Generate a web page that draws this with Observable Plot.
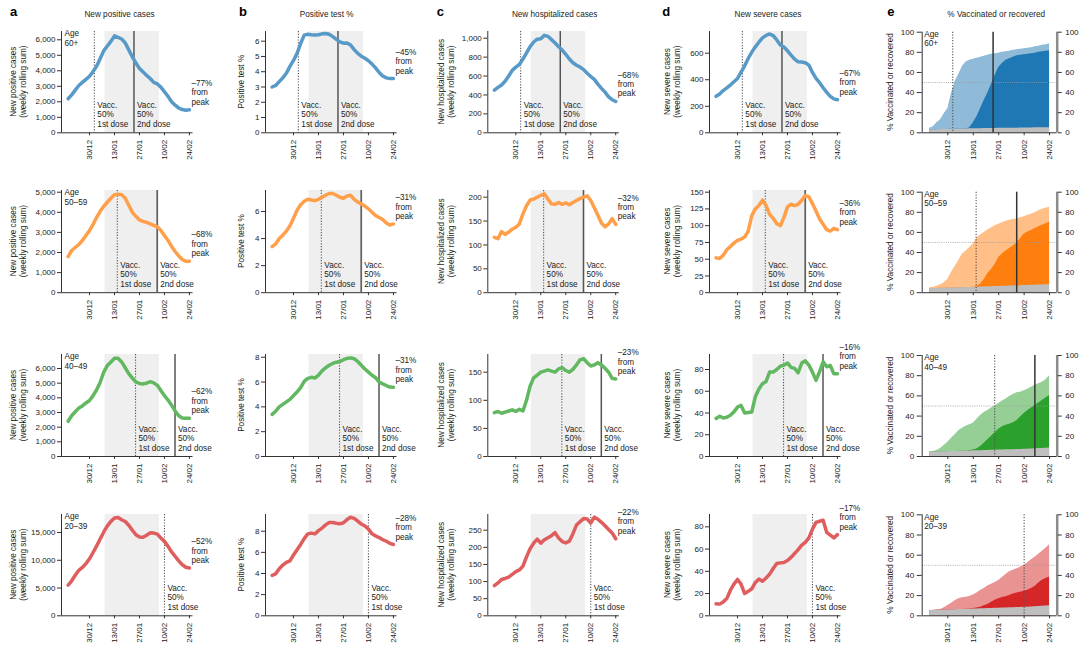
<!DOCTYPE html>
<html>
<head>
<meta charset="utf-8">
<script src="https://cdn.jsdelivr.net/npm/d3@7"></script>
<script src="https://cdn.jsdelivr.net/npm/@observablehq/plot@0.6"></script>
<style>
html,body{margin:0;padding:0;background:#fff;}
#chart{position:relative;width:1080px;height:652px;overflow:hidden;background:#fff;}
#chart svg{position:absolute;left:0;top:0;}
</style>
</head>
<body>
<div id="chart"></div>
<script>
// ---------- DATA ----------
const dates = ["2020-12-18","2020-12-20","2020-12-22","2020-12-24","2020-12-26","2020-12-28","2020-12-30",
  "2021-01-01","2021-01-03","2021-01-05","2021-01-07","2021-01-09","2021-01-11","2021-01-13","2021-01-15",
  "2021-01-17","2021-01-19","2021-01-21","2021-01-23","2021-01-25","2021-01-27","2021-01-29","2021-01-31",
  "2021-02-02","2021-02-04","2021-02-06","2021-02-08","2021-02-10","2021-02-12","2021-02-14","2021-02-16",
  "2021-02-18","2021-02-20","2021-02-22","2021-02-24"];
const datesE = dates.slice(1);
const tickDates = ["2020-12-30","2021-01-13","2021-01-27","2021-02-10","2021-02-24"];

const ages = ["60+", "50\u201359", "40\u201349", "20\u201339"];
const metricTitles = ["New positive cases", "Positive test %", "New hospitalized cases", "New severe cases", "% Vaccinated or recovered"];
const yTitles = [["New positive cases","(weekly rolling sum)"], ["Positive test %"], ["New hospitalized cases","(weekly rolling sum)"], ["New severe cases","(weekly rolling sum)"], ["% Vaccinated or recovered"]];
const panelLetters = ["a","b","c","d","e"];

// a: new positive cases (weekly rolling sum)
const cases60   = [2200,2450,2750,3050,3250,3450,3650,3950,4300,4800,5300,5600,5900,6250,6150,6050,5800,5350,4900,4500,4150,3930,3700,3500,3250,3150,2950,2650,2350,2000,1780,1600,1500,1460,1480];
const cases5059 = [1800,2100,2250,2400,2600,2850,3100,3400,3750,4050,4300,4500,4700,4880,4900,4880,4700,4350,4000,3800,3620,3550,3500,3420,3350,3280,3100,2850,2600,2300,2050,1830,1650,1560,1560];
const cases4049 = [2400,2780,3050,3300,3450,3650,3820,4150,4550,5070,5750,6200,6450,6700,6700,6450,6050,5650,5350,5080,4980,4950,5000,5100,5020,4850,4500,4150,3850,3500,3100,2780,2620,2600,2610];
const cases2039 = [5500,6300,7300,8200,8700,9400,10260,11400,12600,13860,15100,16200,17000,17600,17700,17300,16980,16300,15400,14600,14200,14150,14500,14940,14900,14700,14000,13400,12500,11500,10700,9900,9200,8750,8600];
// b: positive test %
const test60   = [3.0,3.1,3.35,3.6,3.9,4.35,4.74,5.2,5.85,6.4,6.45,6.42,6.4,6.42,6.48,6.5,6.45,6.3,6.12,5.95,5.87,5.88,5.75,5.45,5.2,5.02,4.88,4.72,4.5,4.25,3.95,3.72,3.6,3.55,3.55];
const test5059 = [3.4,3.6,4.0,4.25,4.55,4.95,5.5,6.1,6.5,6.75,6.9,6.85,6.8,6.9,7.05,7.2,7.33,7.33,7.2,7.05,6.98,7.15,7.2,6.9,6.7,6.55,6.4,6.2,5.95,5.7,5.55,5.4,5.15,5.0,5.08];
const test4049 = [3.4,3.65,4.0,4.2,4.4,4.6,4.91,5.2,5.55,6.05,6.3,6.38,6.32,6.55,6.9,7.15,7.35,7.5,7.6,7.65,7.8,7.9,7.95,7.88,7.65,7.35,7.05,6.8,6.55,6.35,6.0,5.85,5.72,5.6,5.58];
const test2039 = [3.82,3.97,4.45,4.8,5.05,5.2,5.75,6.25,6.75,7.3,7.75,7.82,7.75,8.05,8.3,8.6,8.82,8.82,8.75,8.7,8.8,9.1,9.32,9.22,8.95,8.68,8.5,8.2,7.75,7.55,7.4,7.2,7.05,6.85,6.74];
// c: new hospitalized cases
const hosp60   = [450,480,505,545,600,660,694,722,780,845,910,960,990,995,1030,1020,985,950,910,875,830,780,740,715,695,668,630,595,565,515,470,430,380,350,331];
const hosp5059 = [116,113,128,122,127,133,137,144,165,182,194,196,200,204,207,196,186,185,189,185,188,184,189,193,197,200,203,193,178,162,146,138,144,155,143];
const hosp4049 = [78,80,77,79,81,83,80,84,81,100,125,140,145,150,152,154,152,150,156,158,153,150,155,163,172,174,167,161,163,167,163,157,150,139,138];
const hosp2039 = [88,96,106,109,113,121,129,134,145,172,196,212,224,212,222,228,234,243,227,217,213,218,240,265,275,284,283,271,288,282,273,263,252,242,225];
// d: new severe cases
const severe60   = [275,292,318,338,360,385,410,458,505,560,608,648,683,715,735,745,732,700,662,647,618,585,555,535,533,528,510,455,410,378,340,305,275,256,249];
const severe5059 = [52,51,56,64,69,74,78,80,83,92,115,125,130,138,130,117,111,103,100,112,128,132,130,132,138,145,143,133,122,110,102,94,92,96,94];
const severe4049 = [35,37,35.5,36,38,41,45.4,47,40,40.5,41,55,62,67,69,77.6,77.6,80,83,84,86,82,81,77,86,88,84,77.6,70,78,87,82.5,83.7,76,76];
const severe2039 = [10.8,10.5,12.5,15.5,23,28.5,32.7,28.5,20,22,24.3,30,33,31,34,37.5,42.5,47,47.6,48,49.7,52.5,56,59.5,63.5,66,70,78,84,85,86,75,72.5,70,73];
// e: % vaccinated (1st dose or recovered), 2nd dose, recovered
const firstDose60   = [4.5,6,10,13,19,24,39,51,58,66,70.5,72,73,74,75,76,77,78,78.5,79,80,80.5,81,82,82.5,83,83.5,84,84.5,85.5,86,87,87.5,88.5];
const firstDose5059 = [5,5.5,6.5,8,10,13.5,20,26,32,38.5,41.5,45,48.5,54.5,57.5,60,62.5,64.5,66.5,68,69.5,71,72,72.8,73.4,74.5,75.5,77,78,79.5,81.5,83,84,85];
const firstDose4049 = [4.5,5,6,8,11,14,18,21.5,25.5,28,30,31.5,33,37,40.5,43.5,45.5,48,50,52.5,55,57,59.5,61.5,63,63.7,65,66.5,68.5,70.5,72,73.6,76,80];
const firstDose2039 = [5.3,5.5,5.8,6.3,8,10.2,12.5,15,16.8,17.8,18.3,19,20.5,22.5,25,27,29.5,31.3,33,35,38,41,43.5,45,46.5,48,50,52.5,55.5,58,61,64,67,70.3];
const secondDose60   = [3,3,3.1,3.2,3.3,3.4,3.5,3.6,3.7,3.8,3.9,5,10,16,24,32,39.5,48,57,65,69,72,73.5,75,76.5,77,77.5,78,78.5,79,80,80.5,81,81.5];
const secondDose5059 = [4,4.1,4.2,4.4,4.5,4.6,4.7,4.8,4.9,5,5.1,5.2,5.5,6.5,8.6,13,19,23,28,35,38.5,41.5,44,46.5,49.5,54,58.5,60.5,62,64,65.5,67,68.5,70];
const secondDose4049 = [4.3,4.4,4.5,4.6,4.7,4.8,4.9,5,5.2,5.3,5.4,6,6.5,7.5,10,13,16.5,20,23.5,27,29.5,31,32,33.5,35.5,39,42.5,45.5,48,50.5,53,55.5,58,60.5];
const secondDose2039 = [5.2,5.3,5.4,5.5,5.7,5.8,5.9,6,6.2,6.3,6.4,6.8,7.2,7.6,8.5,10,11.2,13.5,15.5,16.8,18,18.8,20,21.5,22.5,23.4,24.2,25.2,27,29,32.5,35.2,37,38.3];
const recovered60   = [3,3,3.1,3.2,3.3,3.4,3.5,3.6,3.7,3.8,3.9,4,4,4.1,4.1,4.2,4.2,4.3,4.3,4.4,4.4,4.5,4.5,4.6,4.6,4.7,4.7,4.8,4.8,4.9,4.9,5,5,5];
const recovered5059 = [4,4.1,4.2,4.4,4.5,4.6,4.7,4.8,4.9,5,5.1,5.2,5.4,5.5,5.6,5.7,5.8,6,6.1,6.2,6.4,6.5,6.6,6.7,6.8,7,7.1,7.2,7.3,7.5,7.6,7.7,7.9,8];
const recovered4049 = [4.3,4.4,4.5,4.6,4.7,4.8,4.9,5,5.2,5.3,5.4,5.5,5.6,5.7,5.8,5.9,6,6.2,6.3,6.4,6.5,6.6,6.7,6.8,6.9,7,7.2,7.3,7.4,7.6,7.8,8,8.1,8.3];
const recovered2039 = [5.2,5.3,5.4,5.5,5.7,5.8,5.9,6,6.2,6.3,6.4,6.5,6.7,6.8,6.9,7,7.2,7.3,7.4,7.5,7.7,7.8,7.9,8,8.2,8.3,8.4,8.5,8.7,8.9,9.1,9.4,9.7,9.9];

// dates when 50% of the age group got the 1st / 2nd dose; lockdown period
const firstDose50  = ["2021-01-01T17:00Z","2021-01-14T14:00Z","2021-01-24T19:00Z","2021-02-10T00:00Z"];
const secondDose50 = ["2021-01-23T22:00Z","2021-02-05T22:00Z","2021-02-15T22:00Z", null];
const lockdown = ["2021-01-07T16:00Z","2021-02-07T04:00Z"];

const fromPeak = [["\u201377%","\u201368%","\u201362%","\u201352%"],["\u201345%","\u201331%","\u201331%","\u201328%"],["\u201368%","\u201332%","\u201323%","\u201322%"],["\u201367%","\u201336%","\u201316%","\u201317%"]];

const yTicks = [
  [[0,1000,2000,3000,4000,5000,6000],[0,1000,2000,3000,4000,5000],[0,1000,2000,3000,4000,5000,6000],[0,5000,10000,15000]],
  [[0,1,2,3,4,5,6],[0,2,4,6],[0,2,4,6,8],[0,2,4,6,8]],
  [[0,200,400,600,800,1000],[0,50,100,150,200],[0,50,100,150],[0,50,100,150,200,250]],
  [[0,200,400,600],[0,25,50,75,100,125,150],[0,20,40,60,80],[0,20,40,60,80]]
];
const yTicksE = [0,20,40,60,80,100];
const yMax = [[6535,5085,6955,18241],[6.635,7.55,8.22,9.58],[1071,214,181.5,295.9],[763.6,152.5,93.8,91.1]];

const seriesByCol = [
  [cases60, cases5059, cases4049, cases2039],
  [test60, test5059, test4049, test2039],
  [hosp60, hosp5059, hosp4049, hosp2039],
  [severe60, severe5059, severe4049, severe2039]
];
const firstDoseByAge = [firstDose60, firstDose5059, firstDose4049, firstDose2039];
const secondDoseByAge = [secondDose60, secondDose5059, secondDose4049, secondDose2039];
const recoveredByAge = [recovered60, recovered5059, recovered4049, recovered2039];

// ---------- STYLE / LAYOUT ----------
const FONT = "'Liberation Sans', Arial, Helvetica, sans-serif";
const lineColors  = ["#5799c7", "#ff9f4a", "#61b861", "#e05d5e"];
const lightColors = ["#8fbbd9", "#ffbf86", "#95cf95", "#ea9393"];
const darkColors  = ["#1f77b4", "#ff7f0e", "#2ca02c", "#d62728"];
const DAY = 864e5, REF = Date.UTC(2020, 11, 30);
const xDomainAD = [new Date(REF - 15.7 * DAY), new Date(REF + 58 * DAY)];
const xDomainE  = [new Date(REF - 14.1 * DAY), new Date(REF + 60.2 * DAY)];
const colLeft  = [61, 265, 487.3, 709, 921.7];
const colWidth = [131.5, 131.5, 131.5, 131.5, 135];
const rowTop    = [31, 190, 354, 514];
const rowTopE   = [31.7, 191.7, 355, 514.3];
const rowBottom = [132.3, 292.2, 456, 615.3];

const chart = document.getElementById("chart");
const txt = {fontSize: 8.2, fill: "#222", lineHeight: 1.15};
const dotted = {stroke: "#555", strokeWidth: 1.1, strokeDasharray: "1.2,1.6"};
const solid = {stroke: "#555", strokeWidth: 1.5};
const xTicks = tickDates.map(d => new Date(d));
const fmtDate = d3.utcFormat("%d/%m");
const fmtNum = d3.format(",");

function frameOpts(left, right, top, bottom) {
  return {
    width: 1080, height: 652,
    marginLeft: left, marginRight: 1080 - right, marginTop: top, marginBottom: 652 - bottom,
    style: {fontFamily: FONT, fontSize: "8px", color: "#222", background: "transparent", overflow: "visible"}
  };
}

function panelAD(c, r) {
  const left = colLeft[c], right = left + colWidth[c];
  const top = rowTop[r], bottom = rowBottom[r];
  const values = seriesByCol[c][r];
  const data = dates.map((d, i) => ({date: new Date(d), value: values[i]}));
  const last = data[data.length - 1];
  const first = new Date(firstDose50[r]);
  const second = secondDose50[r] ? new Date(secondDose50[r]) : null;
  const marks = [
    Plot.rect([lockdown], {x1: d => new Date(d[0]), x2: d => new Date(d[1]), fill: "#efefef"}),
    Plot.ruleX([first], dotted),
    second ? Plot.ruleX([second], solid) : null,
    Plot.line(data, {x: "date", y: "value", stroke: lineColors[r], strokeWidth: 3.5, strokeLinejoin: "round", strokeLinecap: "round"}),
    Plot.text([first], {x: d => d, frameAnchor: "bottom", text: () => "Vacc.\n50%\n1st dose", textAnchor: "start", lineAnchor: "bottom", dx: 3, dy: -6, ...txt}),
    second ? Plot.text([second], {x: d => d, frameAnchor: "bottom", text: () => "Vacc.\n50%\n2nd dose", textAnchor: "start", lineAnchor: "bottom", dx: 3, dy: -6, ...txt}) : null,
    Plot.text([last], {x: "date", y: "value", text: () => fromPeak[c][r] + "\nfrom\npeak", textAnchor: "start", lineAnchor: "bottom", dx: 2, dy: -5, ...txt}),
    c === 0 ? Plot.text([ages[r]], {frameAnchor: "top-left", text: d => "Age\n" + d, textAnchor: "start", lineAnchor: "top", dx: 3, dy: -2, ...txt}) : null,
    Plot.ruleY([0], {stroke: "#333", strokeWidth: 1}),
    Plot.ruleX([xDomainAD[0]], {stroke: "#333", strokeWidth: 1}),
    Plot.axisX(xTicks, {tickFormat: fmtDate, tickRotate: -90, tickSize: 3, tickPadding: 4, label: null, stroke: "#333"}),
    Plot.axisY(yTicks[c][r], {tickFormat: fmtNum, tickSize: 4, tickPadding: 2, label: null, stroke: "#333"})
  ].filter(Boolean);
  const svg = Plot.plot({
    ...frameOpts(left, right, top, bottom),
    x: {type: "utc", domain: xDomainAD},
    y: {domain: [0, yMax[c][r]]},
    marks
  });
  chart.appendChild(svg);
}

function panelE(r) {
  const left = colLeft[4], right = left + colWidth[4];
  const top = rowTopE[r], bottom = rowBottom[r];
  const data = datesE.map((d, i) => ({date: new Date(d), first: firstDoseByAge[r][i], second: secondDoseByAge[r][i], rec: recoveredByAge[r][i]}));
  const first = new Date(firstDose50[r]);
  const second = secondDose50[r] ? new Date(secondDose50[r]) : null;
  const marks = [
    Plot.areaY(data, {x: "date", y1: 0, y2: "first", fill: lightColors[r]}),
    Plot.areaY(data, {x: "date", y1: 0, y2: "second", fill: darkColors[r]}),
    Plot.areaY(data, {x: "date", y1: 0, y2: "rec", fill: "#bebebe"}),
    Plot.ruleY([50], {stroke: "#9a9a9a", strokeWidth: 0.8, strokeDasharray: "1,1.2"}),
    Plot.ruleX([first], dotted),
    second ? Plot.ruleX([second], {stroke: "#333", strokeWidth: 1.5}) : null,
    Plot.text([ages[r]], {frameAnchor: "top-left", text: d => "Age\n" + d, textAnchor: "start", lineAnchor: "top", dx: 2, dy: -2, ...txt}),
    Plot.ruleY([0], {stroke: "#333", strokeWidth: 1}),
    Plot.ruleX([xDomainE[0]], {stroke: "#333", strokeWidth: 1}),
    Plot.ruleX([xDomainE[1]], {stroke: "#8c8c8c", strokeWidth: 2.5}),
    Plot.axisX(xTicks, {tickFormat: fmtDate, tickRotate: -90, tickSize: 3, tickPadding: 4, label: null, stroke: "#333"}),
    Plot.axisY(yTicksE, {anchor: "left", tickFormat: fmtNum, tickSize: 5, tickPadding: 3, label: null, stroke: "#333"}),
    Plot.axisY(yTicksE, {anchor: "right", tickFormat: fmtNum, tickSize: 4, tickPadding: 4, label: null, stroke: "#333"})
  ].filter(Boolean);
  const svg = Plot.plot({
    ...frameOpts(left, right, top, bottom),
    x: {type: "utc", domain: xDomainE},
    y: {domain: [0, 100]},
    marks
  });
  chart.appendChild(svg);
}

for (let r = 0; r < 4; ++r) {
  for (let c = 0; c < 4; ++c) panelAD(c, r);
  panelE(r);
}

// ---------- PANEL LETTERS, TITLES, AXIS TITLES ----------
const ov = d3.select("#chart").append("svg").attr("width", 1080).attr("height", 652)
  .style("font-family", FONT).style("overflow", "visible");
const letterX = [10, 239, 436.7, 662.3, 887.3];
panelLetters.forEach((l, i) => ov.append("text").attr("x", letterX[i]).attr("y", 16)
  .attr("font-size", 13).attr("font-weight", "bold").attr("fill", "#000").text(l));
const titleX = [119.5, 326.7, 554.7, 768, 996.2];
metricTitles.forEach((t, i) => ov.append("text").attr("x", titleX[i]).attr("y", 16.7)
  .attr("text-anchor", "middle").attr("font-size", 8.2).attr("fill", "#222").text(t));
const yTitleX = [[13.3, 23.6], [241.7], [441.7, 451.7], [667.7, 677.7], [890]];
for (let c = 0; c < 5; ++c) {
  for (let r = 0; r < 4; ++r) {
    const top = c === 4 ? rowTopE[r] : rowTop[r];
    const cy = (top + rowBottom[r]) / 2;
    yTitles[c].forEach((line, j) => ov.append("text")
      .attr("transform", `translate(${yTitleX[c][j]},${cy}) rotate(-90)`)
      .attr("text-anchor", "middle").attr("dominant-baseline", "central")
      .attr("font-size", 8.2).attr("fill", "#222").text(line));
  }
}
</script>
</body>
</html>
